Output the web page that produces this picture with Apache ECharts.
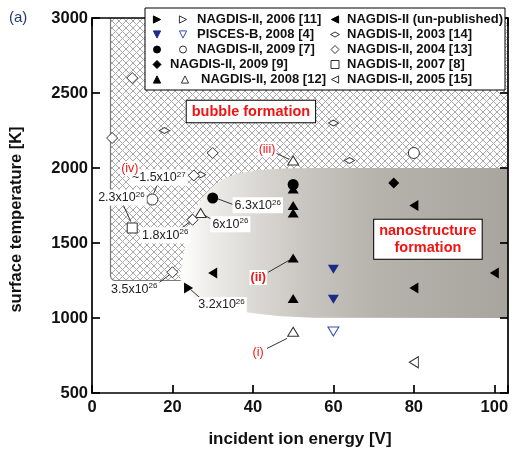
<!DOCTYPE html>
<html><head><meta charset="utf-8">
<script src="https://cdn.jsdelivr.net/npm/echarts@6/dist/echarts.min.js"></script>
<style>html,body{margin:0;padding:0;background:#fff}#c{width:513px;height:453px}</style>
</head><body><div id="c"></div>
<script>
const FONT = '"Liberation Sans", Arial, Helvetica, sans-serif';

// ---- axes ----
const xTicks = [0, 20, 40, 60, 80, 100];
const yTicks = [500, 1000, 1500, 2000, 2500, 3000];
const X_MIN = 0, X_MAX = 103.4, Y_MIN = 500, Y_MAX = 3000;
const xTitle = 'incident ion energy [V]';
const yTitle = 'surface temperature [K]';

// ---- data series (energy [V], temperature [K]) ----
const nagdis2006Filled   = [[24, 1200]];
const nagdis2006Open     = [];
const pisces2008Filled   = [[60, 1325], [60, 1125]];
const pisces2008Open     = [[60, 910]];
const nagdis2009_7Filled = [[30, 1800], [50, 1890]];
const nagdis2009_7Open   = [[15, 1790], [80, 2100]];
const nagdis2009_9       = [[75, 1900]];
const nagdis2008Filled   = [[50, 1860], [50, 1750], [50, 1700], [50, 1400], [50, 1130]];
const nagdis2008Open     = [[27, 1700], [50, 2050], [50, 908]];
const nagdisUnpublished  = [[30, 1300], [80, 1750], [80, 1200], [100, 1300]];
const nagdis2003         = [[18, 2250], [27, 1955], [60, 2300], [64, 2050]];
const nagdis2004         = [[5, 2200], [10, 2600], [30, 2100], [25.3, 1950], [25, 1655], [20, 1305]];
const nagdis2007         = [[10, 1600]];
const nagdis2005         = [[80, 705]];

// ---- regions ----
const bubbleLeft = 4.6, bubbleBottom = 1250;
const nanoBoundary = [
  [X_MAX, 2000], [55, 2000], [47, 1996], [41, 1985], [36, 1962], [32.5, 1925],
  [29.5, 1865], [27.3, 1800], [25.6, 1720], [24.3, 1620], [23.3, 1500],
  [22.4, 1380], [21.9, 1280], [22.2, 1215], [23.3, 1170], [25.5, 1128],
  [29, 1090], [34, 1058], [40, 1032], [47, 1012], [55, 1002], [X_MAX, 1000]
];

// ---- annotations ----
const densityLabels = [
  { text: '~1.5x10', sup: '27', pos: [16.6, 1937] },
  { text: '2.3x10',  sup: '26', pos: [7.3, 1804] },
  { text: '6.3x10',  sup: '26', pos: [41.2, 1751] },
  { text: '6x10',    sup: '26', pos: [34.4, 1625] },
  { text: '1.8x10',  sup: '26', pos: [18.2, 1552] },
  { text: '3.5x10',  sup: '26', pos: [10.5, 1193] },
  { text: '3.2x10',  sup: '26', pos: [32.2, 1087] }
];
const regimeLabels = [
  { text: '(iv)',  pos: [9.4, 1996] },
  { text: '(iii)', pos: [43.5, 2124] },
  { text: '(ii)',  pos: [41.3, 1270], bold: true },
  { text: '(i)',   pos: [41.3, 771] }
];
const pointerLines = [
  [[16.2, 1885], [15.3, 1830]],
  [[7.7, 1758], [9.6, 1645]],
  [[31.2, 1795], [35, 1757]],
  [[28, 1685], [30.5, 1645]],
  [[21.9, 1592], [24.3, 1640]],
  [[16.3, 1228], [19.2, 1287]],
  [[24.5, 1190], [26.9, 1133]],
  [[43.8, 1305], [49, 1385]],
  [[45.8, 2098], [49, 2058]],
  [[43.5, 797], [48.5, 864]]
];
const regionTitles = [
  { text: 'bubble formation', pos: [39.5, 2376] },
  { text: 'nanostructure\nformation', pos: [83.5, 1525] }
];

// ---- legend ----
const legendCol1 = [
  { syms: [['right', true, '#000'], ['right', false, '#333']], text: 'NAGDIS-II, 2006 [11]' },
  { syms: [['down', true, '#1c2a8a'], ['down', false, '#3a4ca8']], text: 'PISCES-B, 2008 [4]' },
  { syms: [['circle', true, '#000'], ['circle', false, '#333']], text: 'NAGDIS-II, 2009 [7]' },
  { syms: [['diamond', true, '#000']], text: 'NAGDIS-II, 2009 [9]' },
  { syms: [['up', true, '#000'], ['up', false, '#333']], text: 'NAGDIS-II, 2008 [12]' }
];
const legendCol2 = [
  { sym: ['left', true, '#000'], text: 'NAGDIS-II (un-published)' },
  { sym: ['flat', false, '#333'], text: 'NAGDIS-II, 2003 [14]' },
  { sym: ['diamond', false, '#333'], text: 'NAGDIS-II, 2004 [13]' },
  { sym: ['square', false, '#333'], text: 'NAGDIS-II, 2007 [8]' },
  { sym: ['left', false, '#333'], text: 'NAGDIS-II, 2005 [15]' }
];

// hatch pattern
const pc = document.createElement('canvas');
pc.width = 7; pc.height = 7;
const pg = pc.getContext('2d');
pg.fillStyle = '#fff'; pg.fillRect(0, 0, 7, 7);
pg.strokeStyle = '#a8a8a8'; pg.lineWidth = 1;
pg.beginPath(); pg.moveTo(0, 0); pg.lineTo(7, 7); pg.moveTo(7, 0); pg.lineTo(0, 7); pg.stroke();
const hatch = { image: pc, repeat: 'repeat' };

function renderBubble(params, api) {
  const tl = api.coord([bubbleLeft, Y_MAX]);
  const bl = api.coord([bubbleLeft, bubbleBottom]);
  const br = api.coord([X_MAX, bubbleBottom]);
  const tr = api.coord([X_MAX, Y_MAX]);
  const r = 5, cx = bl[0] + r, cy = bl[1] - r;
  const arc = [];
  for (let i = 0; i <= 8; i++) {
    const a = Math.PI - i * (Math.PI / 2) / 8;
    arc.push([cx + r * Math.cos(a), cy + r * Math.sin(a)]);
  }
  return {
    type: 'group',
    children: [
      { type: 'polygon', shape: { points: [tl].concat(arc, [br, tr]) }, style: { fill: hatch, stroke: null } },
      { type: 'polyline', shape: { points: [[tl[0], tl[1]]].concat(arc, [br]) }, style: { fill: null, stroke: '#7a7a7a', lineWidth: 1.2 } }
    ]
  };
}
function renderNano(params, api) {
  const pts = nanoBoundary.map(p => api.coord(p));
  return {
    type: 'polygon', shape: { points: pts },
    style: {
      fill: new echarts.graphic.LinearGradient(0, 0, 1, 0, [
        { offset: 0, color: '#ffffff' }, { offset: 0.08, color: '#efeeeb' },
        { offset: 0.22, color: '#dcdad6' }, { offset: 0.38, color: '#c9c6c1' },
        { offset: 0.6, color: '#b6b3ad' }, { offset: 1, color: '#a8a49e' }
      ]),
      stroke: null
    }
  };
}

function sc(name, data, symbol, size, rotate, fill, stroke) {
  return {
    type: 'scatter', name, data, symbol, symbolSize: size, symbolRotate: rotate,
    itemStyle: { color: fill, borderColor: stroke || fill, borderWidth: stroke ? 1 : 0, opacity: 1 },
    z: 5, silent: true
  };
}
const TRI = [11, 9];
const axisLineStyle = { color: '#000', width: 1.7 };
function axis(pos, min, max, interval, extra) {
  return Object.assign({
    type: 'value', position: pos, min, max, interval, z: 3,
    axisLine: { show: true, onZero: false, lineStyle: axisLineStyle },
    axisTick: { show: true, inside: true, length: 8, lineStyle: axisLineStyle },
    axisLabel: { show: false },
    splitLine: { show: false }
  }, extra || {});
}
const tickLabel = { show: true, fontFamily: FONT, fontWeight: 'bold', fontSize: 16.5, color: '#111' };

const chart = echarts.init(document.getElementById('c'));
chart.setOption({
  animation: false,
  grid: { left: 92, right: 5, top: 18, bottom: 59 },
  xAxis: [
    axis('bottom', X_MIN, X_MAX, 20, {
      name: xTitle, nameLocation: 'middle', nameGap: 38,
      nameTextStyle: { fontFamily: FONT, fontWeight: 'bold', fontSize: 17, color: '#111' },
      axisLabel: Object.assign({}, tickLabel, { margin: 6, formatter: v => xTicks.includes(v) ? String(v) : '' })
    }),
    axis('top', X_MIN, X_MAX, 20)
  ],
  yAxis: [
    axis('left', Y_MIN, Y_MAX, 500, {
      name: yTitle, nameLocation: 'middle', nameGap: 67,
      nameTextStyle: { fontFamily: FONT, fontWeight: 'bold', fontSize: 16.5, color: '#111', padding: [0, 28, 0, 0] },
      axisLabel: Object.assign({}, tickLabel, { margin: 4, formatter: v => yTicks.includes(v) ? String(v) : '' })
    }),
    axis('right', Y_MIN, Y_MAX, 500)
  ],
  series: [
    { type: 'custom', renderItem: renderBubble, data: [[X_MIN, Y_MAX]], z: 1, silent: true, clip: true },
    { type: 'custom', renderItem: renderNano, data: [[X_MIN, Y_MAX]], z: 1, silent: true, clip: true },
    sc('NAGDIS-II, 2006 [11]', nagdis2006Filled, 'triangle', TRI, -90, '#000'),
    sc('NAGDIS-II, 2006 [11] open', nagdis2006Open, 'triangle', TRI, -90, '#fff', '#333'),
    sc('PISCES-B, 2008 [4]', pisces2008Filled, 'triangle', TRI, 180, '#1c2a8a'),
    sc('PISCES-B, 2008 [4] open', pisces2008Open, 'triangle', TRI, 180, '#fff', '#3a4ca8'),
    sc('NAGDIS-II, 2009 [7]', nagdis2009_7Filled, 'circle', 11, 0, '#000'),
    sc('NAGDIS-II, 2009 [7] open', nagdis2009_7Open, 'circle', 11, 0, '#fff', '#333'),
    sc('NAGDIS-II, 2009 [9]', nagdis2009_9, 'diamond', 11, 0, '#000'),
    sc('NAGDIS-II, 2008 [12]', nagdis2008Filled, 'triangle', TRI, 0, '#000'),
    sc('NAGDIS-II, 2008 [12] open', nagdis2008Open, 'triangle', TRI, 0, '#fff', '#333'),
    sc('NAGDIS-II (un-published)', nagdisUnpublished, 'triangle', TRI, 90, '#000'),
    sc('NAGDIS-II, 2003 [14]', nagdis2003, 'diamond', [10, 6], 0, '#fff', '#333'),
    sc('NAGDIS-II, 2004 [13]', nagdis2004, 'diamond', 11, 0, '#fff', '#333'),
    sc('NAGDIS-II, 2007 [8]', nagdis2007, 'rect', 10, 0, '#fff', '#333'),
    sc('NAGDIS-II, 2005 [15]', nagdis2005, 'triangle', TRI, 90, '#fff', '#333')
  ]
});

function P(p) { return chart.convertToPixel({ xAxisIndex: 0, yAxisIndex: 0 }, p); }

function legendSym(kind, filled, color, cx, cy) {
  const st = { fill: filled ? color : '#fff', stroke: color, lineWidth: 1 };
  const h = 3.6;
  let shape, type = 'polygon';
  if (kind === 'up') shape = { points: [[cx, cy - h], [cx + h, cy + h], [cx - h, cy + h]] };
  else if (kind === 'down') shape = { points: [[cx, cy + h], [cx + h, cy - h], [cx - h, cy - h]] };
  else if (kind === 'left') shape = { points: [[cx - h, cy], [cx + h, cy - h], [cx + h, cy + h]] };
  else if (kind === 'right') shape = { points: [[cx + h, cy], [cx - h, cy - h], [cx - h, cy + h]] };
  else if (kind === 'diamond') shape = { points: [[cx, cy - 4], [cx + 4, cy], [cx, cy + 4], [cx - 4, cy]] };
  else if (kind === 'flat') shape = { points: [[cx, cy - 2.5], [cx + 4.5, cy], [cx, cy + 2.5], [cx - 4.5, cy]] };
  else if (kind === 'circle') { type = 'circle'; shape = { cx, cy, r: 3.5 }; }
  else if (kind === 'square') { type = 'rect'; shape = { x: cx - 4, y: cy - 4, width: 8, height: 8 }; }
  return { type, shape, style: st, z: 21 };
}

const g = [];
pointerLines.forEach(([a, b]) => {
  const pa = P(a), pb = P(b);
  g.push({ type: 'line', shape: { x1: pa[0], y1: pa[1], x2: pb[0], y2: pb[1] }, style: { stroke: '#333', lineWidth: 1 }, z: 10 });
});
densityLabels.forEach(d => {
  const p = P(d.pos);
  g.push({
    type: 'text', x: p[0], y: p[1], z: 11,
    style: {
      text: '{m|' + d.text + '}{s|' + d.sup + '}',
      rich: {
        m: { fontFamily: FONT, fontSize: 12.5, fill: '#222', lineHeight: 14 },
        s: { fontFamily: FONT, fontSize: 8, fill: '#222', lineHeight: 9, verticalAlign: 'top' }
      },
      align: 'center', verticalAlign: 'middle', backgroundColor: '#fff', padding: [1, 2]
    }
  });
});
regimeLabels.forEach(d => {
  const p = P(d.pos);
  g.push({
    type: 'text', x: p[0], y: p[1], z: 11,
    style: {
      text: d.text, fontFamily: FONT, fontSize: 12.5, fontWeight: d.bold ? 'bold' : 'normal',
      fill: '#f01414', align: 'center', verticalAlign: 'middle', backgroundColor: '#fff', padding: [1, 1]
    }
  });
});
regionTitles.forEach(d => {
  const p = P(d.pos);
  g.push({
    type: 'text', x: p[0], y: p[1], z: 11,
    style: {
      text: d.text, fontFamily: FONT, fontSize: 14.5, fontWeight: 'bold', lineHeight: 17.5,
      fill: '#f01414', align: 'center', verticalAlign: 'middle',
      backgroundColor: '#fff', borderColor: '#000', borderWidth: 1, padding: [2, 5]
    }
  });
});
g.push({ type: 'rect', shape: { x: 145, y: 8, width: 360, height: 82 }, style: { fill: '#fff', stroke: '#000', lineWidth: 1 }, z: 20 });
const rowY = [19.5, 34.5, 49.5, 64.5, 79.5];
const legFont = { fontFamily: FONT, fontSize: 13, fontWeight: 'bold', fill: '#111', verticalAlign: 'middle', align: 'left' };
legendCol1.forEach((e, i) => {
  const y = rowY[i];
  if (e.syms.length === 1) {
    g.push(legendSym(e.syms[0][0], e.syms[0][1], e.syms[0][2], 157, y));
    g.push({ type: 'text', x: 170, y, z: 21, style: Object.assign({ text: e.text }, legFont) });
  } else {
    const ox = i === 4 ? 185 : 183, tx = i === 4 ? 201 : 197;
    g.push(legendSym(e.syms[0][0], e.syms[0][1], e.syms[0][2], 157, y));
    g.push(legendSym(e.syms[1][0], e.syms[1][1], e.syms[1][2], ox, y));
    g.push({ type: 'text', x: tx, y, z: 21, style: Object.assign({ text: e.text }, legFont) });
  }
});
legendCol2.forEach((e, i) => {
  const y = rowY[i];
  g.push(legendSym(e.sym[0], e.sym[1], e.sym[2], 335, y));
  g.push({ type: 'text', x: 347, y, z: 21, style: Object.assign({ text: e.text }, legFont) });
});
g.push({ type: 'text', x: 9, y: 18, z: 21, style: { text: '(a)', fontFamily: FONT, fontSize: 15, fill: '#23396e', verticalAlign: 'middle' } });

chart.setOption({ graphic: g });
</script>
</body></html>
